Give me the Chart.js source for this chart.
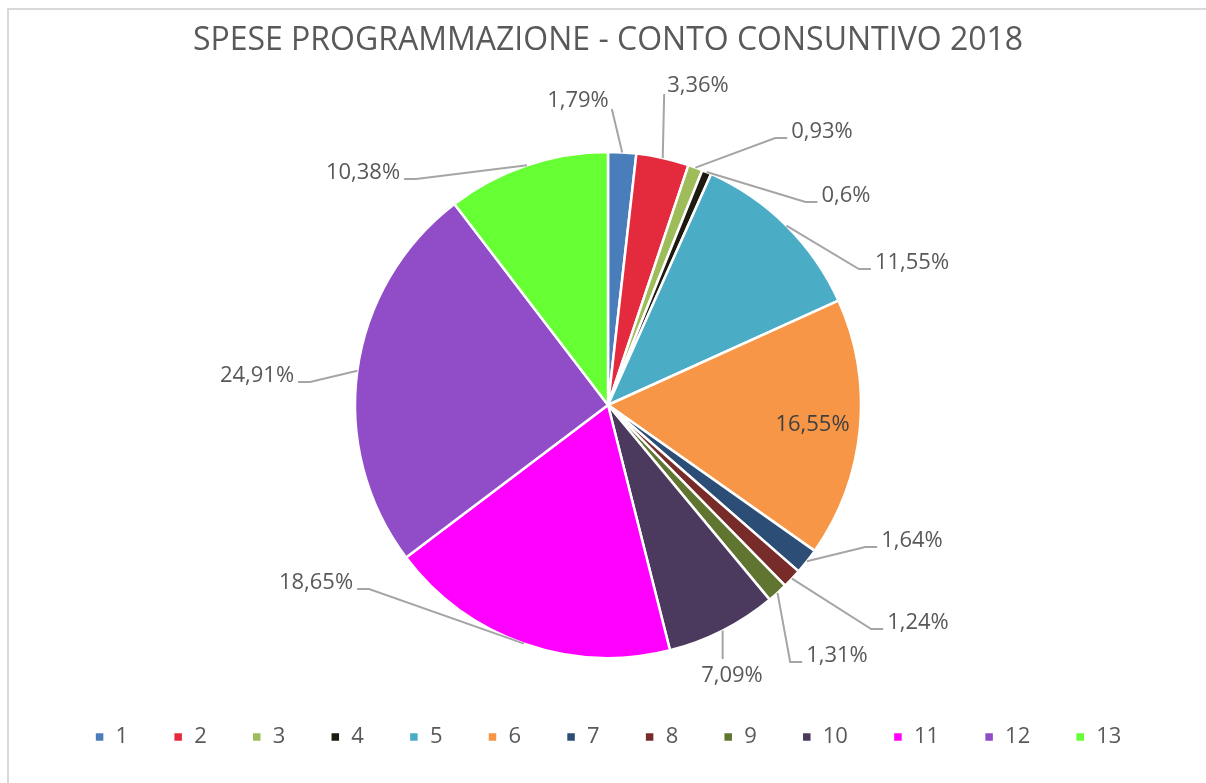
<!DOCTYPE html>
<html>
<head>
<meta charset="utf-8">
<script src="https://cdn.jsdelivr.net/npm/chart.js@4/dist/chart.umd.min.js"></script>
<style>
  body { margin: 0; background: #fff; }
  #wrap { position: relative; width: 1206px; height: 783px; overflow: hidden; }
  #frame { position: absolute; left: 7px; top: 8px; width: 1300px; height: 900px;
           border-left: 2px solid #d9d9d9; border-top: 2px solid #d9d9d9; }
  canvas { position: absolute; left: 0; top: 0; }
</style>
</head>
<body>
<div id="wrap">
  <div id="frame"></div>
  <canvas id="chart" width="1206" height="783"></canvas>
</div>
<script>
// data
const categories = ['1', '2', '3', '4', '5', '6', '7', '8', '9', '10', '11', '12', '13'];
const percentages = [1.79, 3.36, 0.93, 0.6, 11.55, 16.55, 1.64, 1.24, 1.31, 7.09, 18.65, 24.91, 10.38];
const sliceColors = [
    '#4a7ebb', '#e32b3d', '#9ebd5a', '#1d1b10', '#4bacc6', '#f79646', '#2c4d75',
    '#772c2a', '#5f7530', '#4b3a5e', '#ff00ff', '#914dc8', '#66ff33'
];

// where each label sits, relative to the pie centre, and how its leader line runs
const labelOffsets = [
    [-30, -304], [90, -319], [214, -273], [238, -209], [304, -142], [0, 0], [304, 136],
    [310, 218], [229, 251], [124, 271], [-292, 178], [-351, -29], [-245, -232]
];
const labelModes = ['top', 'top', 'right', 'right', 'right', 'inside', 'right',
                    'right', 'right', 'bottom', 'left', 'left', 'left'];

const textColor = '#595959';
const fontFamily = "'Open Sans', sans-serif";

function formatPct(v) {
    return v.toString().replace('.', ',') + '%';
}

// draws the percentage labels with Excel-like leader lines
const sliceLabels = {
    id: 'sliceLabels',
    afterDatasetsDraw(chart) {
        const ctx = chart.ctx;
        const meta = chart.getDatasetMeta(0);
        ctx.save();
        ctx.font = '22px ' + fontFamily;
        ctx.textBaseline = 'middle';
        ctx.textAlign = 'center';
        meta.data.forEach((arc, i) => {
            const p = arc.getProps(['x', 'y', 'startAngle', 'endAngle', 'outerRadius'], true);
            const mid = (p.startAngle + p.endAngle) / 2;
            const text = formatPct(percentages[i]);
            const mode = labelModes[i];
            if (mode === 'inside') {
                const r = p.outerRadius * 0.812;
                ctx.fillStyle = '#404040';
                ctx.fillText(text, p.x + Math.cos(mid) * r, p.y + Math.sin(mid) * r);
                return;
            }
            const ax = p.x + Math.cos(mid) * p.outerRadius;
            const ay = p.y + Math.sin(mid) * p.outerRadius;
            const cx = p.x + labelOffsets[i][0];
            const cy = p.y + labelOffsets[i][1];
            const w = ctx.measureText(text).width;
            const left = cx - w / 2, right = cx + w / 2;

            ctx.strokeStyle = '#a5a5a5';
            ctx.lineWidth = 2;
            ctx.beginPath();
            ctx.moveTo(ax, ay);
            if (mode === 'right') {
                ctx.lineTo(left - 16, cy + 6);
                ctx.lineTo(left - 4, cy + 6);
            } else if (mode === 'left') {
                ctx.lineTo(right + 16, cy + 6);
                ctx.lineTo(right + 4, cy + 6);
            } else if (mode === 'top') {
                ctx.lineTo(Math.min(Math.max(ax, left - 3), right + 3), cy + 8);
            } else {
                ctx.lineTo(Math.min(Math.max(ax, left - 3), right + 3), cy - 17);
            }
            ctx.stroke();

            ctx.fillStyle = textColor;
            ctx.fillText(text, cx, cy);
        });
        ctx.restore();
    }
};

new Chart(document.getElementById('chart'), {
    type: 'pie',
    data: {
        labels: categories,
        datasets: [{
            data: percentages,
            backgroundColor: sliceColors,
            borderColor: '#ffffff',
            borderWidth: 2.5,
            radius: 253
        }]
    },
    options: {
        responsive: false,
        devicePixelRatio: 1,
        animation: false,
        events: [],
        layout: { padding: { left: 10, right: 0, top: 0, bottom: 25 } },
        plugins: {
            title: {
                display: true,
                text: 'SPESE PROGRAMMAZIONE - CONTO CONSUNTIVO 2018',
                color: textColor,
                font: { family: fontFamily, size: 32, weight: 'normal' },
                padding: { top: 22, bottom: 68.6 }
            },
            legend: {
                display: true,
                position: 'bottom',
                labels: {
                    color: textColor,
                    font: { family: fontFamily, size: 22 },
                    boxWidth: 10,
                    boxHeight: 10,
                    padding: 45
                }
            },
            tooltip: { enabled: false }
        }
    },
    plugins: [sliceLabels]
});
</script>
</body>
</html>
